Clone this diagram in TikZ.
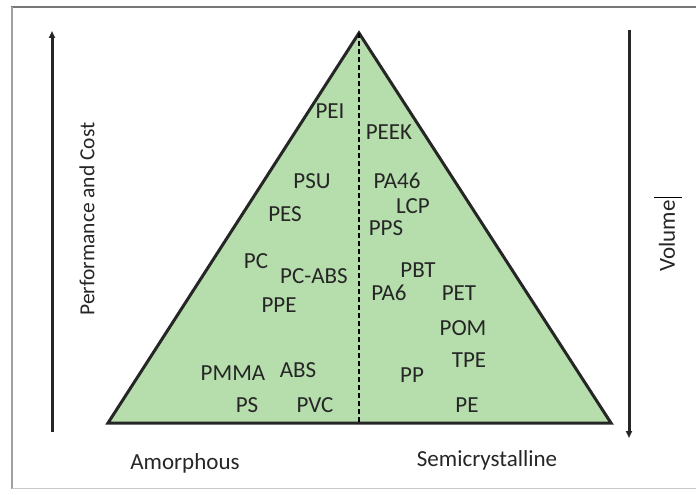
\documentclass[tikz,border=0pt]{standalone}
\usepackage{fontspec}
\setmainfont{Carlito}
\usetikzlibrary{arrows.meta}
\definecolor{trifill}{RGB}{182,221,172}
\definecolor{framegray}{RGB}{120,120,120}
\definecolor{framelight}{RGB}{200,200,200}
\tikzset{
  lbl/.style={font=\fontsize{23}{26}\selectfont, text=black!85, inner sep=0pt},
  axlbl/.style={font=\fontsize{21.5}{24}\selectfont, text=black!85, inner sep=0pt},
  axis/.style={line width=3pt, draw=black!85, -{Triangle[length=7pt,width=6pt]}},
}
\begin{document}
\begin{tikzpicture}[x=1pt,y=-1pt]
\useasboundingbox (0,0) rectangle (696,489);
% frame
\draw[framegray, line width=2pt] (11,7) -- (696,7);
\draw[framelight!80!black, line width=2pt] (12,7) -- (12,489);
\draw[framelight, line width=1pt] (12,488) -- (696,488);
% triangle
\coordinate (apex) at (359,33);
\coordinate (bl) at (108,423);
\coordinate (br) at (611,423);
\coordinate (bm) at (359,423);
\draw[fill=trifill, draw=black!85, line width=3pt, line join=miter] (apex) -- (br) -- (bl) -- cycle;
\draw[dashed, line width=1.3pt, dash pattern=on 5pt off 3pt] (apex) -- (bm);
% axes
\coordinate (la0) at (52,432);
\coordinate (la1) at (52,31);
\coordinate (ra0) at (629,30);
\coordinate (ra1) at (629,438);
\draw[axis] (la0) -- (la1);
\draw[axis] (ra0) -- (ra1);
\node[axlbl, rotate=90] (perf) at (87,219) {Performance and Cost};
\node[lbl, rotate=90] (vol) at (667,236) {Volume};
\draw[line width=1pt] (654,198) -- (682,198);
% labels
\node[lbl] (pei) at (330,111) {PEI};
\node[lbl] (peek) at (389,132) {PEEK};
\node[lbl] (psu) at (312,181) {PSU};
\node[lbl] (pa46) at (397,181) {PA46};
\node[lbl] (pes) at (285,214) {PES};
\node[lbl] (lcp) at (413,206) {LCP};
\node[lbl] (pps) at (386,228) {PPS};
\node[lbl] (pc) at (256,261) {PC};
\node[lbl] (pcabs) at (314,276) {PC-ABS};
\node[lbl] (pbt) at (418,270) {PBT};
\node[lbl] (pa6) at (389,293) {PA6};
\node[lbl] (pet) at (459,293) {PET};
\node[lbl] (ppe) at (279,305) {PPE};
\node[lbl] (pom) at (463,328) {POM};
\node[lbl] (pmma) at (233,373) {PMMA};
\node[lbl] (abs) at (298,370) {ABS};
\node[lbl] (tpe) at (469,360) {TPE};
\node[lbl] (pp) at (412,375) {PP};
\node[lbl] (ps) at (247,405) {PS};
\node[lbl] (pvc) at (315,405) {PVC};
\node[lbl] (pe) at (467,405) {PE};
\node[lbl] (amor) at (185,463) {Amorphous};
\node[lbl] (semi) at (487,460) {Semicrystalline};
\end{tikzpicture}
\end{document}
